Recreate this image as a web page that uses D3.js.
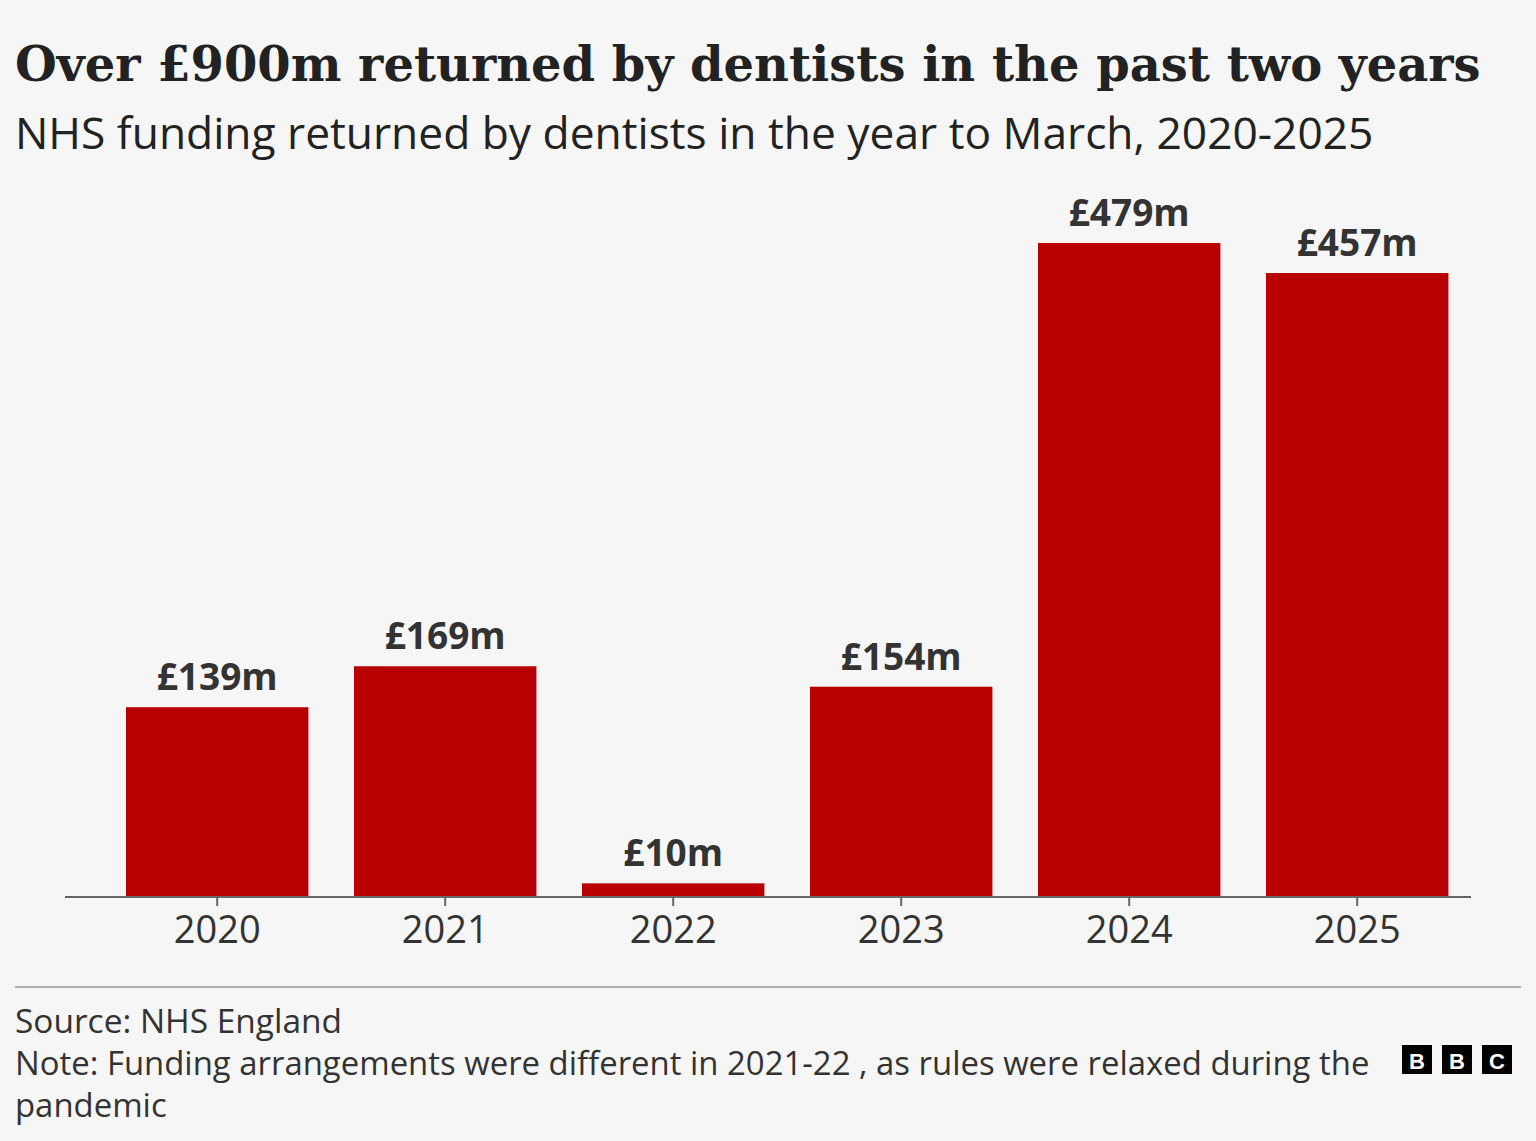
<!DOCTYPE html>
<html><head><meta charset="utf-8">
<script src="https://cdn.jsdelivr.net/npm/d3@7"></script>
<style>html,body{margin:0;padding:0;background:#f6f6f6;}svg{display:block;}</style>
</head><body>
<svg id="chart" width="1536" height="1141"></svg>
<script>
const years = ["2020","2021","2022","2023","2024","2025"];
const values = [139, 169, 10, 154, 479, 457];
const valueLabels = ["£139m","£169m","£10m","£154m","£479m","£457m"];
const title = "Over £900m returned by dentists in the past two years";
const subtitle = "NHS funding returned by dentists in the year to March, 2020-2025";
const source = "Source: NHS England";
const noteLines = ["Note: Funding arrangements were different in 2021-22 , as rules were relaxed during the", "pandemic"];

const svg = d3.select("#chart");
svg.append("rect").attr("width",1536).attr("height",1141).attr("fill","#f6f6f6");

function fit(sel, target){
  const w = sel.node().getComputedTextLength();
  const fs = parseFloat(sel.attr("font-size"));
  sel.attr("font-size", fs*target/w);
}

const t = svg.append("text").attr("x",15).attr("y",81).attr("font-family","'DejaVu Serif', serif")
  .attr("font-weight","bold").attr("font-size",44).attr("fill","#222").text(title);
fit(t, 1466);
const st = svg.append("text").attr("x",15).attr("y",149).attr("font-family","'Open Sans', sans-serif")
  .attr("font-size",38).attr("fill","#222").text(subtitle);
fit(st, 1359);

const x = d3.scaleBand().domain(years).range([103.2,1471.2]).paddingInner(0.2).paddingOuter(0.1);
const y = d3.scaleLinear().domain([0,479]).range([897,243]);

svg.selectAll("rect.bar").data(values).join("rect").attr("class","bar")
  .attr("x",(d,i)=>x(years[i])).attr("width",x.bandwidth())
  .attr("y",d=>y(d)).attr("height",d=>y(0)-y(d)).attr("fill","#b80000");

svg.selectAll("text.val").data(values).join("text").attr("class","val")
  .attr("x",(d,i)=>x(years[i])+x.bandwidth()/2).attr("y",d=>y(d)-17)
  .attr("text-anchor","middle").attr("font-family","'Open Sans', sans-serif").attr("font-weight","bold")
  .attr("font-size",37).attr("fill","#333").text((d,i)=>valueLabels[i]);

const ax = svg.append("g").attr("transform","translate(0,897)")
  .call(d3.axisBottom(x).tickSize(9).tickSizeOuter(0));
ax.select(".domain").remove();
ax.append("line").attr("x1",65).attr("x2",1471).attr("y1",0).attr("y2",0).attr("stroke","#666").attr("stroke-width",2);
ax.selectAll(".tick line").attr("stroke","#666").attr("stroke-width",2);
ax.selectAll(".tick text").attr("font-family","'Open Sans', sans-serif").attr("font-size",38)
  .attr("fill","#333").attr("dy",0).attr("y",46);

svg.append("line").attr("x1",15).attr("x2",1521).attr("y1",987).attr("y2",987).attr("stroke","#999").attr("stroke-width",1.5);

const ff = "'Open Sans', sans-serif";
const s1 = svg.append("text").attr("x",15).attr("y",1033).attr("font-family",ff).attr("font-size",30).attr("fill","#333").text(source);
fit(s1, 327);
const n1 = svg.append("text").attr("x",15).attr("y",1075).attr("font-family",ff).attr("font-size",30).attr("fill","#333").text(noteLines[0]);
fit(n1, 1355);
svg.append("text").attr("x",15).attr("y",1117).attr("font-family",ff).attr("font-size",n1.attr("font-size")).attr("fill","#333").text(noteLines[1]);

const logo = svg.append("g").attr("transform","translate(1402,1045)");
["B","B","C"].forEach((c,i)=>{
  logo.append("rect").attr("x",i*40).attr("y",0).attr("width",30).attr("height",29).attr("fill","#000");
  logo.append("text").attr("x",i*40+15).attr("y",24).attr("text-anchor","middle").attr("font-family","'Liberation Sans', sans-serif")
    .attr("font-weight","bold").attr("font-size",22).attr("fill","#fff").text(c);
});
</script>
</body></html>
